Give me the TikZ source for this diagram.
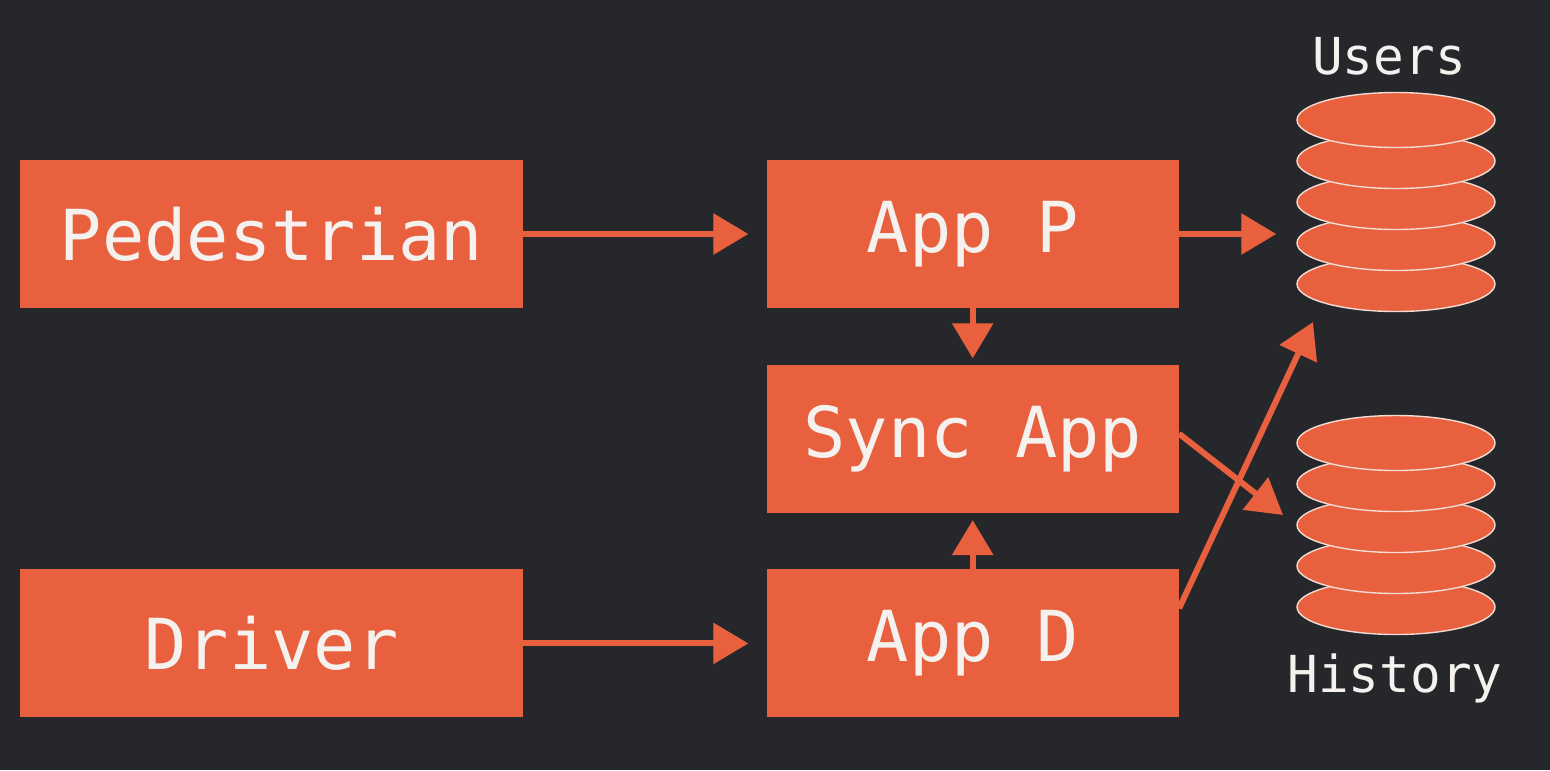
\documentclass[tikz,border=0pt]{standalone}
\usepackage{xcolor}
\usepackage{fontspec}
\newfontfamily\monofont{DejaVu Sans Mono}
\usepackage{tikz}
\usetikzlibrary{positioning}
\usetikzlibrary{arrows.meta}
\usetikzlibrary{shapes.geometric}
\definecolor{bg}{HTML}{26272B}
\definecolor{brick}{HTML}{E8603D}
\definecolor{chalk}{HTML}{F4F1EE}
\tikzset{edge/.style = {-{Triangle[length=0.7cm,width=0.8cm]}, draw=brick, line width=0.12cm}}

\begin{document}
\begin{tikzpicture}[node distance=1.12cm,
    box/.style={rectangle,fill=brick,text=chalk,minimum height=2.96cm,font=\monofont\fontsize{40}{46}\selectfont},
    wide box/.style={box,minimum width=10.06cm},
    app box/.style={box,minimum width=8.24cm},
    db/.style={ellipse,fill=brick,draw=chalk!85!brick,line width=0.8pt,minimum width=3.96cm,minimum height=1.1cm,inner sep=0pt},
    db label/.style={text=chalk,font=\monofont\fontsize{29}{34}\selectfont}]
            \fill[bg] (0,0) rectangle (31,-15.4);

            \node[wide box] (ped) at (5.43,-4.68) {Pedestrian};
            \node[app box] (appP) [right=4.86cm of ped] {App P};
            \node[app box] (sync) [below=of appP] {Sync App};
            \node[app box] (appD) [below=of sync] {App D};
            \node[wide box] (driver) [left=4.86cm of appD] {Driver};

            % stacks, bottom disc first
            \foreach \i/\y in {5/-5.68,4/-4.86,3/-4.04,2/-3.22,1/-2.4}
                \node[db] (users\i) at (27.92,\y) {};
            \foreach \i/\y in {5/-12.14,4/-11.32,3/-10.5,2/-9.68,1/-8.86}
                \node[db] (hist\i) at (27.92,\y) {};
            \node[db label] (usersname) at (27.78,-1.12) {Users};
            \node[db label] (histname) at (27.9,-13.56) {History};

            \coordinate (histin) at (25.66,-10.3);
            \coordinate (usersin) at (26.26,-6.44);

            \draw[edge,shorten >=0.36cm] (ped) -- (appP);
            \draw[edge,shorten >=0.36cm] (driver.east) -- (driver.east -| appD.west);
            \draw[edge,shorten >=0.4cm] (appP.east) -- (appP.east -| users1.west);
            \draw[edge,shorten >=0.12cm] (appP) -- (sync);
            \draw[edge,shorten >=0.14cm] (appD) -- (sync);
            %\draw[edge] (sync.east) -- (hist2.west);
            \draw[edge] ([yshift=0.1cm]sync.east) -- (histin);
            \draw[edge] ([yshift=0.7cm]appD.east) -- (usersin);
        \end{tikzpicture}
\end{document}
